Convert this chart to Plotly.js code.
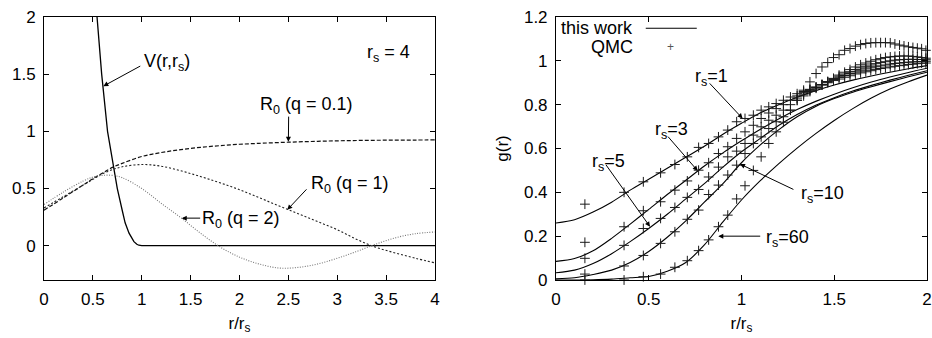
<!DOCTYPE html>
<html><head><meta charset="utf-8">
<script src="https://cdn.plot.ly/plotly-3.0.1.min.js"></script>
<style>html,body{margin:0;padding:0;background:#fff}#chart{width:932px;height:338px}</style>
</head><body><div id="chart"></div>
<script>
// ---------- Left panel data ----------
const vX = [0.50, 0.54, 0.59, 0.65, 0.71, 0.75, 0.80, 0.83, 0.87, 0.90, 0.92, 0.95, 0.97, 1.00, 4.00];
const vY = [2.45, 2.00, 1.50, 1.00, 0.69, 0.50, 0.31, 0.20, 0.11, 0.06, 0.035, 0.012, 0.004, 0.00, 0.00];

const r0X   = [0, 0.2, 0.4, 0.5, 0.6, 0.7, 0.8, 1.0, 1.2, 1.4, 1.6, 1.8, 2.0, 2.2, 2.4, 2.6, 2.8, 3.0, 3.2, 3.4, 3.6, 3.8, 4.0];
const r0q01 = [0.31, 0.42, 0.53, 0.585, 0.635, 0.685, 0.72, 0.78, 0.815, 0.84, 0.86, 0.875, 0.887, 0.895, 0.902, 0.908, 0.913, 0.917, 0.92, 0.922, 0.923, 0.924, 0.925];
const r0q1  = [0.33, 0.43, 0.53, 0.58, 0.63, 0.665, 0.69, 0.71, 0.695, 0.655, 0.605, 0.55, 0.49, 0.42, 0.35, 0.28, 0.21, 0.14, 0.055, -0.015, -0.065, -0.11, -0.15];
const r0q2  = [0.36, 0.47, 0.565, 0.60, 0.615, 0.615, 0.595, 0.50, 0.37, 0.245, 0.11, -0.01, -0.10, -0.16, -0.195, -0.19, -0.16, -0.11, -0.05, 0.015, 0.07, 0.105, 0.12];

// ---------- Right panel data ----------
const gX  = [0, 0.1, 0.2, 0.3, 0.4, 0.5, 0.6, 0.7, 0.8, 0.9, 1.0, 1.1, 1.2, 1.3, 1.4, 1.5, 1.6, 1.7, 1.8, 1.9, 2.0];
const g1  = [0.26, 0.275, 0.31, 0.355, 0.41, 0.46, 0.51, 0.56, 0.61, 0.665, 0.715, 0.762, 0.80, 0.834, 0.864, 0.89, 0.912, 0.931, 0.948, 0.964, 0.978];
const g3  = [0.085, 0.098, 0.133, 0.19, 0.255, 0.322, 0.39, 0.455, 0.52, 0.58, 0.635, 0.687, 0.735, 0.778, 0.815, 0.848, 0.877, 0.903, 0.926, 0.947, 0.966];
const g5  = [0.033, 0.045, 0.075, 0.12, 0.175, 0.235, 0.30, 0.37, 0.44, 0.515, 0.585, 0.645, 0.705, 0.755, 0.797, 0.832, 0.862, 0.888, 0.912, 0.934, 0.955];
const g10 = [0.005, 0.01, 0.025, 0.045, 0.08, 0.13, 0.195, 0.27, 0.355, 0.44, 0.535, 0.615, 0.685, 0.745, 0.792, 0.828, 0.857, 0.882, 0.905, 0.927, 0.948];
const g60 = [0.0, 0.0, 0.001, 0.004, 0.01, 0.016, 0.04, 0.08, 0.16, 0.265, 0.365, 0.452, 0.53, 0.602, 0.668, 0.728, 0.782, 0.83, 0.871, 0.905, 0.935];

const qmcX = [0.156, 0.367, 0.471, 0.564, 0.641, 0.708, 0.769, 0.823, 0.876, 0.926, 0.974, 1.019, 1.064, 1.106, 1.147, 1.187, 1.226, 1.264,
              1.300, 1.335, 1.369, 1.402, 1.434, 1.465, 1.496, 1.526, 1.556, 1.585, 1.614, 1.642, 1.670, 1.697, 1.724, 1.750, 1.776,
              1.802, 1.827, 1.852, 1.876, 1.900, 1.924, 1.948, 1.971, 1.994];
const qmc1 = [0.346, 0.40, 0.448, 0.489, 0.527, 0.562, 0.605, 0.623, 0.653, 0.684, 0.722, 0.737, 0.752, 0.775, 0.79, 0.805, 0.82, 0.835,
              0.85, 0.86, 0.87, 0.88, 0.89, 0.90, 0.91, 0.917, 0.925, 0.932, 0.94, 0.945, 0.95, 0.955, 0.96, 0.965, 0.968,
              0.972, 0.975, 0.978, 0.98, 0.983, 0.985, 0.987, 0.989, 0.99];
const qmc3 = [0.172, 0.243, 0.316, 0.357, 0.41, 0.452, 0.501, 0.535, 0.577, 0.608, 0.646, 0.676, 0.706, 0.737, 0.762, 0.782, 0.80, 0.82,
              0.84, 0.855, 0.868, 0.88, 0.892, 0.903, 0.915, 0.925, 0.933, 0.942, 0.95, 0.957, 0.963, 0.968, 0.973, 0.977, 0.981,
              0.985, 0.988, 0.99, 0.992, 0.994, 0.995, 0.996, 0.997, 0.998];
const qmc5 = [0.099, 0.158, 0.235, 0.281, 0.331, 0.377, 0.413, 0.47, 0.515, 0.562, 0.588, 0.623, 0.661, 0.699, 0.729, 0.752, 0.775, 0.80,
              0.83, 0.848, 0.864, 0.878, 0.892, 0.905, 0.918, 0.93, 0.94, 0.95, 0.96, 0.968, 0.975, 0.981, 0.987, 0.992, 0.996,
              1.0, 1.003, 1.005, 1.006, 1.007, 1.007, 1.006, 1.006, 1.005];
const qmc10 = [0.027, 0.064, 0.112, 0.167, 0.22, 0.277, 0.319, 0.39, 0.433, 0.479, 0.524, 0.577, 0.623, 0.653, 0.691, 0.722, 0.745, 0.775,
              0.82, 0.84, 0.86, 0.875, 0.89, 0.905, 0.92, 0.935, 0.948, 0.96, 0.972, 0.982, 0.99, 0.998, 1.005, 1.01, 1.015,
              1.018, 1.02, 1.022, 1.022, 1.022, 1.02, 1.018, 1.015, 1.012];
const qmc60 = [0.0, 0.0, 0.015, 0.027, 0.058, 0.088, 0.134, 0.183, 0.243, 0.296, 0.37, 0.43, 0.50, 0.562, 0.623, 0.676, 0.72, 0.775,
              0.82, 0.866, 0.904, 0.942, 0.972, 0.992, 1.015, 1.028, 1.048, 1.056, 1.067, 1.074, 1.079, 1.082, 1.083, 1.083, 1.083,
              1.082, 1.077, 1.072, 1.068, 1.064, 1.061, 1.058, 1.055, 1.048];

const leftXTicks  = [0, 0.5, 1, 1.5, 2, 2.5, 3, 3.5, 4];
const leftYTicks  = [0, 0.5, 1, 1.5, 2];
const rightXTicks = [0, 0.5, 1, 1.5, 2];
const rightYTicks = [0, 0.2, 0.4, 0.6, 0.8, 1, 1.2];

const FONT = 'Liberation Sans, Arial, Helvetica, sans-serif';
const BLACK = '#000';

const traces = [
  {x: vX, y: vY, xaxis: 'x', yaxis: 'y', mode: 'lines', line: {color: BLACK, width: 1.3}, name: 'V'},
  {x: r0X, y: r0q01, xaxis: 'x', yaxis: 'y', mode: 'lines', line: {color: '#111', width: 1.2, dash: '4px,2px', shape: 'spline'}, name: 'q=0.1'},
  {x: r0X, y: r0q1, xaxis: 'x', yaxis: 'y', mode: 'lines', line: {color: '#222', width: 1.1, dash: '2px,2px', shape: 'spline'}, name: 'q=1'},
  {x: r0X, y: r0q2, xaxis: 'x', yaxis: 'y', mode: 'lines', line: {color: '#777', width: 1.1, dash: '1px,1.5px', shape: 'spline'}, name: 'q=2'}
];
const gSeries = [g1, g3, g5, g10, g60];
gSeries.forEach(function (ys, i) {
  traces.push({x: gX, y: ys, xaxis: 'x2', yaxis: 'y2', mode: 'lines', line: {color: BLACK, width: 1.1, shape: 'spline', smoothing: 0.8}, name: 'this work ' + i});
});
const qSeries = [qmc1, qmc3, qmc5, qmc10, qmc60];
qSeries.forEach(function (ys, i) {
  traces.push({x: qmcX, y: ys, xaxis: 'x2', yaxis: 'y2', mode: 'markers',
    marker: {symbol: 'cross-thin-open', size: 7, color: '#1a1a1a', line: {color: '#1a1a1a', width: 1}}, name: 'QMC ' + i, cliponaxis: false});
});

const axisCommon = {
  showline: true, linecolor: BLACK, linewidth: 1, mirror: 'allticks',
  ticks: 'inside', ticklen: 5, tickwidth: 1, tickcolor: BLACK,
  showgrid: false, zeroline: false, ticklabelstandoff: 4,
  tickfont: {family: FONT, size: 17, color: BLACK}
};
const titleFont = {family: FONT, size: 17, color: BLACK};
const txtFont = {family: FONT, size: 18, color: BLACK};

function label(text, x, y, xr, yr) {
  return {text: text, x: x, y: y, xref: xr, yref: yr, showarrow: false, font: txtFont, xanchor: 'center', yanchor: 'middle'};
}
function arrow(tipX, tipY, tailX, tailY, xr, yr) {
  return {text: '', x: tipX, y: tipY, ax: tailX, ay: tailY, xref: xr, yref: yr, axref: xr, ayref: yr,
          showarrow: true, arrowhead: 2, arrowsize: 1, arrowwidth: 1, arrowcolor: BLACK, standoff: 0, startstandoff: 0};
}

const annotations = [
  label('V(r,r<sub>s</sub>)', 1.26, 1.60, 'x', 'y'),
  arrow(0.607, 1.395, 1.0, 1.578, 'x', 'y'),
  label('r<sub>s</sub> = 4', 3.52, 1.68, 'x', 'y'),
  label('R<sub>0</sub> (q = 0.1)', 2.69, 1.23, 'x', 'y'),
  arrow(2.50, 0.909, 2.503, 1.142, 'x', 'y'),
  label('R<sub>0</sub> (q = 1)', 3.13, 0.535, 'x', 'y'),
  arrow(2.489, 0.314, 2.70, 0.506, 'x', 'y'),
  label('R<sub>0</sub> (q = 2)', 2.02, 0.23, 'x', 'y'),
  arrow(1.409, 0.241, 1.613, 0.241, 'x', 'y'),

  label('r<sub>s</sub>=1', 0.839, 0.925, 'x2', 'y2'),
  arrow(1.006, 0.737, 0.821, 0.904, 'x2', 'y2'),
  label('r<sub>s</sub>=3', 0.622, 0.683, 'x2', 'y2'),
  arrow(0.764, 0.498, 0.597, 0.661, 'x2', 'y2'),
  label('r<sub>s</sub>=5', 0.282, 0.538, 'x2', 'y2'),
  arrow(0.507, 0.243, 0.264, 0.532, 'x2', 'y2'),
  label('r<sub>s</sub>=10', 1.437, 0.388, 'x2', 'y2'),
  arrow(0.992, 0.529, 1.288, 0.41, 'x2', 'y2'),
  label('r<sub>s</sub>=60', 1.248, 0.188, 'x2', 'y2'),
  arrow(0.875, 0.20, 1.109, 0.20, 'x2', 'y2'),

  {text: 'this work', x: 0.425, y: 1.149, xref: 'x2', yref: 'y2', xanchor: 'right', yanchor: 'middle', showarrow: false, font: txtFont},
  {text: 'QMC', x: 0.425, y: 1.062, xref: 'x2', yref: 'y2', xanchor: 'right', yanchor: 'middle', showarrow: false, font: txtFont},
  {text: '+', x: 0.615, y: 1.062, xref: 'x2', yref: 'y2', xanchor: 'center', yanchor: 'middle', showarrow: false, font: {family: FONT, size: 12, color: '#555'}}
];

const layout = {
  width: 932, height: 338,
  margin: {l: 44, r: 5, t: 17, b: 58},
  paper_bgcolor: '#fff', plot_bgcolor: '#fff', showlegend: false,
  font: {family: FONT, size: 17, color: BLACK},
  xaxis: Object.assign({}, axisCommon, {domain: [0, 0.4428], range: [0, 4], tickvals: leftXTicks, anchor: 'y',
          title: {text: 'r/r<sub>s</sub>', font: titleFont, standoff: 8}}),
  yaxis: Object.assign({}, axisCommon, {domain: [0, 1], range: [-0.3, 2], tickvals: leftYTicks, anchor: 'x'}),
  xaxis2: Object.assign({}, axisCommon, {domain: [0.5798, 1], range: [0, 2], tickvals: rightXTicks, anchor: 'y2',
          title: {text: 'r/r<sub>s</sub>', font: titleFont, standoff: 8}}),
  yaxis2: Object.assign({}, axisCommon, {domain: [0, 1], range: [0, 1.2], tickvals: rightYTicks, anchor: 'x2',
          title: {text: 'g(r)', font: titleFont, standoff: 10}}),
  shapes: [
    {type: 'line', xref: 'x2', yref: 'y2', x0: 0.484, x1: 0.759, y0: 1.149, y1: 1.149, line: {color: BLACK, width: 1.1}}
  ],
  annotations: annotations
};

Plotly.newPlot('chart', traces, layout, {staticPlot: true, displayModeBar: false});
</script>
</body></html>
